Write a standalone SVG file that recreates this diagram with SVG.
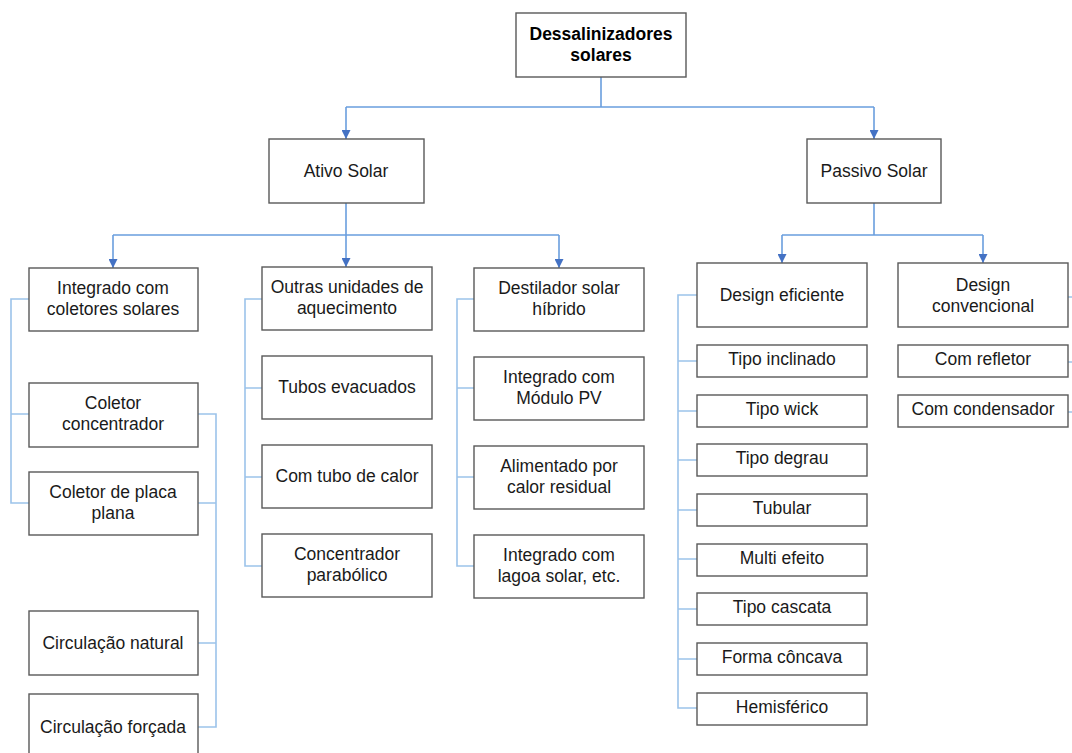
<svg xmlns="http://www.w3.org/2000/svg" width="1072" height="753" viewBox="0 0 1072 753">
<style>
.box{fill:#fff;stroke:#595959;stroke-width:1.4}
.t{font-family:"Liberation Sans",Arial,sans-serif;font-size:17.5px;fill:#1a1a1a;text-anchor:middle}
.b{font-weight:bold;fill:#000}
.main{fill:none;stroke:#6a9ede;stroke-width:1.6}
.br{fill:none;stroke:#9cc3ea;stroke-width:1.6}
</style>
<defs>
<marker id="ah" viewBox="0 0 10 10" refX="10" refY="5" markerWidth="9" markerHeight="9" markerUnits="userSpaceOnUse" orient="auto">
<path d="M0,0 L10,5 L0,10 z" fill="#4472c4"/>
</marker>
</defs>
<rect width="1072" height="753" fill="#fff"/>
<g id="connectors">
<path class="main" d="M601,77 V107 M346,107 H874"/>
<path class="main" d="M346,107 V139" marker-end="url(#ah)"/>
<path class="main" d="M874,107 V139" marker-end="url(#ah)"/>
<path class="main" d="M346,203 V235 M113,235 H559"/>
<path class="main" d="M113,235 V268" marker-end="url(#ah)"/>
<path class="main" d="M346,235 V267" marker-end="url(#ah)"/>
<path class="main" d="M559,235 V268" marker-end="url(#ah)"/>
<path class="main" d="M874,203 V235 M782,235 H983"/>
<path class="main" d="M782,235 V263" marker-end="url(#ah)"/>
<path class="main" d="M983,235 V263" marker-end="url(#ah)"/>
<path class="br" d="M29,299 H11 V503 H29 M11,414 H29"/>
<path class="br" d="M198,414 H216 V727 H198 M198,503 H216 M198,643 H216"/>
<path class="br" d="M262,299 H245 V566 H262 M245,388 H262 M245,477 H262"/>
<path class="br" d="M474,299 H457 V566 H474 M457,388 H474 M457,477 H474"/>
<path class="br" d="M697,295 H678 V708 H697 M678,361 H697 M678,411 H697 M678,460 H697 M678,510 H697 M678,559 H697 M678,609 H697 M678,659 H697"/>
<path class="br" d="M1068,297 H1072 M1068,362 H1072 M1068,412 H1072"/>
</g>
<g id="root"><rect class="box" x="516" y="13" width="170" height="64"/><text class="t b" x="601" y="40">Dessalinizadores</text><text class="t b" x="601" y="61">solares</text></g>
<g id="ativo"><rect class="box" x="269" y="139" width="155" height="64"/><text class="t" x="346" y="177">Ativo Solar</text></g>
<g id="passivo"><rect class="box" x="807" y="139" width="134" height="64"/><text class="t" x="874" y="177">Passivo Solar</text></g>
<g id="integrado-coletores"><rect class="box" x="29" y="268" width="169" height="63"/><text class="t" x="113" y="294">Integrado com</text><text class="t" x="113" y="315">coletores solares</text></g>
<g id="coletor-concentrador"><rect class="box" x="29" y="383" width="169" height="64"/><text class="t" x="113" y="409">Coletor</text><text class="t" x="113" y="430">concentrador</text></g>
<g id="coletor-placa"><rect class="box" x="29" y="472" width="169" height="63"/><text class="t" x="113" y="498">Coletor de placa</text><text class="t" x="113" y="519">plana</text></g>
<g id="circ-natural"><rect class="box" x="29" y="611" width="169" height="64"/><text class="t" x="113" y="649">Circulação natural</text></g>
<g id="circ-forcada"><rect class="box" x="29" y="694" width="169" height="64"/><text class="t" x="113" y="733">Circulação forçada</text></g>
<g id="outras"><rect class="box" x="262" y="267" width="170" height="63"/><text class="t" x="347" y="293">Outras unidades de</text><text class="t" x="347" y="314">aquecimento</text></g>
<g id="tubos"><rect class="box" x="262" y="356" width="170" height="63"/><text class="t" x="347" y="393">Tubos evacuados</text></g>
<g id="tubo-calor"><rect class="box" x="262" y="445" width="170" height="63"/><text class="t" x="347" y="482">Com tubo de calor</text></g>
<g id="concentrador"><rect class="box" x="262" y="534" width="170" height="63"/><text class="t" x="347" y="560">Concentrador</text><text class="t" x="347" y="581">parabólico</text></g>
<g id="destilador"><rect class="box" x="474" y="268" width="170" height="63"/><text class="t" x="559" y="294">Destilador solar</text><text class="t" x="559" y="315">híbrido</text></g>
<g id="modulo-pv"><rect class="box" x="474" y="357" width="170" height="63"/><text class="t" x="559" y="383">Integrado com</text><text class="t" x="559" y="404">Módulo PV</text></g>
<g id="alimentado"><rect class="box" x="474" y="446" width="170" height="63"/><text class="t" x="559" y="472">Alimentado por</text><text class="t" x="559" y="493">calor residual</text></g>
<g id="lagoa"><rect class="box" x="474" y="535" width="170" height="63"/><text class="t" x="559" y="561">Integrado com</text><text class="t" x="559" y="582">lagoa solar, etc.</text></g>
<g id="design-eficiente"><rect class="box" x="697" y="263" width="170" height="64"/><text class="t" x="782" y="301">Design eficiente</text></g>
<g id="design-convencional"><rect class="box" x="898" y="263" width="170" height="64"/><text class="t" x="983" y="291">Design</text><text class="t" x="983" y="312">convencional</text></g>
<g id="tipo-inclinado"><rect class="box" x="697" y="345" width="170" height="32"/><text class="t" x="782" y="365">Tipo inclinado</text></g>
<g id="tipo-wick"><rect class="box" x="697" y="395" width="170" height="32"/><text class="t" x="782" y="415">Tipo wick</text></g>
<g id="tipo-degrau"><rect class="box" x="697" y="444" width="170" height="32"/><text class="t" x="782" y="464">Tipo degrau</text></g>
<g id="tubular"><rect class="box" x="697" y="494" width="170" height="32"/><text class="t" x="782" y="514">Tubular</text></g>
<g id="multi-efeito"><rect class="box" x="697" y="544" width="170" height="32"/><text class="t" x="782" y="564">Multi efeito</text></g>
<g id="tipo-cascata"><rect class="box" x="697" y="593" width="170" height="32"/><text class="t" x="782" y="613">Tipo cascata</text></g>
<g id="forma-concava"><rect class="box" x="697" y="643" width="170" height="32"/><text class="t" x="782" y="663">Forma côncava</text></g>
<g id="hemisferico"><rect class="box" x="697" y="693" width="170" height="32"/><text class="t" x="782" y="713">Hemisférico</text></g>
<g id="com-refletor"><rect class="box" x="898" y="345" width="170" height="32"/><text class="t" x="983" y="365">Com refletor</text></g>
<g id="com-condensador"><rect class="box" x="898" y="395" width="170" height="32"/><text class="t" x="983" y="415">Com condensador</text></g>
</svg>
